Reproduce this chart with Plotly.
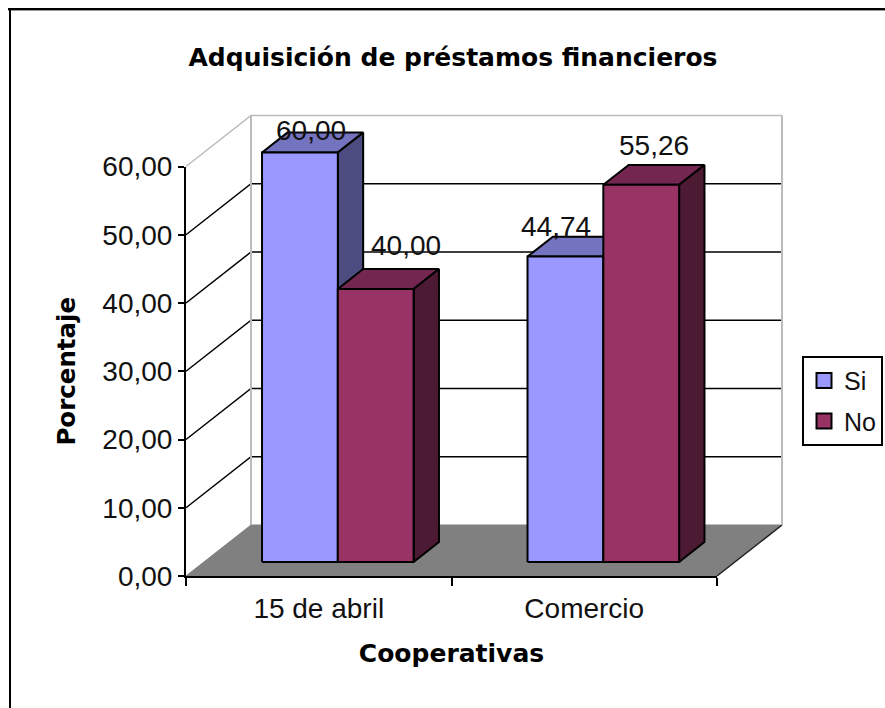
import plotly.graph_objects as go

categories = ["15 de abril", "Comercio"]
series_names = ["Si", "No"]
si_values = [60.00, 44.74]
no_values = [40.00, 55.26]
y_ticks = [0, 10, 20, 30, 40, 50, 60]

# Page geometry
W, H = 885, 708
L, R, T, B = 186, 717, 166.5, 576
PX_PER_CAT = (R - L) / len(categories)
PX_PER_VAL = (B - T) / 60
DX = 65 / PX_PER_CAT    # depth of chart floor, x units
DY = 51 / PX_PER_VAL    # depth of chart floor, value units
BAR_START = 0.219
BAR_W = 0.2855
D0, D1 = 0.275, 0.665   # bar depth extent

COLORS = {
    "Si": ("#9999FF", "#7373BF", "#4C4C80"),
    "No": ("#993366", "#732650", "#4D1A33"),
}
LABEL_SHIFT = {  # label centre relative to bar front top centre, px
    ("Si", 0): (11, 22), ("No", 0): (30, 43),
    ("Si", 1): (-9, 30), ("No", 1): (13, 39),
}


def proj(x, y, d):
    return x + d * DX, y + d * DY


def poly(points, fill, line="#000000", width=2):
    xs = [p[0] for p in points] + [points[0][0]]
    ys = [p[1] for p in points] + [points[0][1]]
    return go.Scatter(x=xs, y=ys, mode="lines", fill="toself", fillcolor=fill,
                      line=dict(color=line, width=width), showlegend=False,
                      hoverinfo="skip", xaxis="x", yaxis="y")


def path(points, color, width=2):
    return go.Scatter(x=[p[0] for p in points], y=[p[1] for p in points], mode="lines",
                      line=dict(color=color, width=width), showlegend=False,
                      hoverinfo="skip", xaxis="x", yaxis="y")


fig = go.Figure()
n = len(categories)
# floor
fig.add_trace(poly([proj(0, 0, 0), proj(0, 0, 1), proj(n, 0, 1), proj(n, 0, 0)], "#808080", "#808080", 1))
fig.add_trace(path([proj(n, 0, 0), proj(n, 0, 1)], "#222222", 1.5))
# walls and gridlines
for v in y_ticks[1:]:
    col = "#000000" if v < 60 else "#BBBBBB"
    fig.add_trace(path([proj(0, v, 0), proj(0, v, 1), proj(n, v, 1)], col, 1.5))
fig.add_trace(path([proj(0, 0, 1), proj(0, 60, 1)], "#BBBBBB", 2))
fig.add_trace(path([proj(n, 0, 1), proj(n, 60, 1)], "#BBBBBB", 2))

annotations = []
# bars
for c in range(n):
    for s, (name, vals) in enumerate(zip(series_names, (si_values, no_values))):
        front, top, side = COLORS[name]
        v = vals[c]
        x0 = c + BAR_START + s * BAR_W
        x1 = x0 + BAR_W
        fig.add_trace(poly([proj(x0, v, D0), proj(x0, v, D1), proj(x1, v, D1), proj(x1, v, D0)], top))
        fig.add_trace(poly([proj(x1, 0, D0), proj(x1, 0, D1), proj(x1, v, D1), proj(x1, v, D0)], side))
        fig.add_trace(poly([proj(x0, 0, D0), proj(x1, 0, D0), proj(x1, v, D0), proj(x0, v, D0)], front))
        tx, ty = proj((x0 + x1) / 2, v, D0)
        sx, sy = LABEL_SHIFT[(name, c)]
        annotations.append(dict(x=tx, y=ty, xref="x", yref="y", text=f"{v:.2f}".replace(".", ","),
                                showarrow=False, xshift=sx, yshift=sy, yanchor="middle",
                                font=dict(size=28, color="#111111")))

# trace that carries the visible axes, and legend entries
fig.add_trace(go.Scatter(x=[0, n], y=[0, 60], mode="markers", marker=dict(opacity=0), showlegend=False,
                         hoverinfo="skip", xaxis="x2", yaxis="y2"))
for name in series_names:
    fig.add_trace(go.Scatter(x=[None], y=[None], mode="markers", name=name, legendgroup=name,
                             xaxis="x2", yaxis="y2",
                             marker=dict(symbol="square", size=15, color=COLORS[name][0],
                                         line=dict(color="#000000", width=2))))


def px(x):
    return x / W


def py(y):
    return 1 - y / H


shapes = [
    dict(type="line", xref="paper", yref="paper", x0=px(8), x1=px(W), y0=py(9), y1=py(9), line=dict(color="#000000", width=2)),
    dict(type="line", xref="paper", yref="paper", x0=px(8), x1=px(W), y0=py(10.5), y1=py(10.5), line=dict(color="#999999", width=1)),
    dict(type="line", xref="paper", yref="paper", x0=px(10), x1=px(10), y0=py(8), y1=py(H), line=dict(color="#000000", width=2)),
]

fig.update_layout(
    width=W, height=H,
    margin=dict(l=0, r=0, t=0, b=0, autoexpand=False),
    paper_bgcolor="#FFFFFF", plot_bgcolor="rgba(0,0,0,0)",
    separators=", ",
    font=dict(family="Liberation Sans", color="#111111", size=28),
    title=dict(text="<b>Adquisición de préstamos financieros</b>", x=453 / W, xanchor="center",
               y=1 - 57 / H, yanchor="middle",
               font=dict(family="DejaVu Sans", size=25, color="#000000")),
    # full-page axes on which the 3D faces are projected
    xaxis=dict(domain=[0, 1], range=[-L / PX_PER_CAT, (W - L) / PX_PER_CAT], visible=False),
    yaxis=dict(domain=[0, 1], range=[-(H - B) / PX_PER_VAL, B / PX_PER_VAL], visible=False),
    # visible axes on the chart's front plane
    xaxis2=dict(domain=[L / W, R / W], anchor="y2", range=[0, n], tickvals=[c + 0.5 for c in range(n)],
                ticktext=categories, showgrid=False, zeroline=False, showline=True, linecolor="#000000",
                linewidth=2, ticks="", ticklabelstandoff=6,
                minor=dict(tickvals=list(range(n + 1)), ticks="outside", ticklen=8, tickcolor="#000000",
                           tickwidth=2, showgrid=False),
                title=dict(text="<b>Cooperativas</b>", standoff=22,
                           font=dict(family="DejaVu Sans", size=25, color="#000000"))),
    yaxis2=dict(domain=[1 - B / H, 1 - T / H], anchor="x2", range=[0, 60], tickvals=y_ticks, tickformat=".2f",
                showgrid=False, zeroline=False, showline=True, linecolor="#000000", linewidth=2,
                ticks="outside", ticklen=6, tickcolor="#000000", tickwidth=2,
                title=dict(text="<b>Porcentaje</b>", standoff=20,
                           font=dict(family="DejaVu Sans", size=24.5, color="#000000"))),
    legend=dict(x=802 / W, y=1 - 355.7 / H, xanchor="left", yanchor="top",
                bordercolor="#000000", borderwidth=2, bgcolor="#FFFFFF", font=dict(size=25),
                itemwidth=30, tracegroupgap=5),
    annotations=annotations, shapes=shapes,
)

fig.write_html("out.html", config={"displayModeBar": False},
               post_script="document.body.style.margin='0';")
